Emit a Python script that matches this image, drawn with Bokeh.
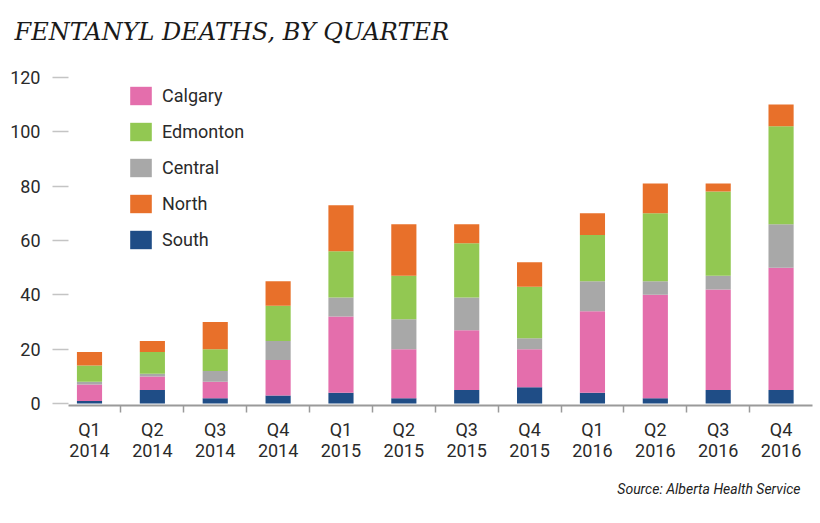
from bokeh.plotting import figure
from bokeh.models import ColumnDataSource, Range1d, FixedTicker, Legend, LegendItem, Title
from bokeh.embed import file_html
from bokeh.resources import INLINE

# ---- data ----
quarters = ["Q1", "Q2", "Q3", "Q4", "Q1", "Q2", "Q3", "Q4", "Q1", "Q2", "Q3", "Q4"]
years = ["2014"] * 4 + ["2015"] * 4 + ["2016"] * 4
south = [1, 5, 2, 3, 4, 2, 5, 6, 4, 2, 5, 5]
calgary = [6, 5, 6, 13, 28, 18, 22, 14, 30, 38, 37, 45]
central = [1, 1, 4, 7, 7, 11, 12, 4, 11, 5, 5, 16]
edmonton = [6, 8, 8, 13, 17, 16, 20, 19, 17, 25, 31, 36]
north = [5, 4, 10, 9, 17, 19, 7, 9, 8, 11, 3, 8]
y_ticks = [0, 20, 40, 60, 80, 100, 120]

stack_order = ["South", "Calgary", "Central", "Edmonton", "North"]
legend_order = ["Calgary", "Edmonton", "Central", "North", "South"]
colors = {
    "South": "#1F4D86",
    "Calgary": "#E46EAC",
    "Central": "#A8A8A8",
    "Edmonton": "#92C852",
    "North": "#E8702A",
}

xpos = list(range(len(quarters)))
source = ColumnDataSource(dict(
    x=xpos, South=south, Calgary=calgary, Central=central,
    Edmonton=edmonton, North=north,
))

LABEL_FONT = "Roboto"

p = figure(
    width=820, height=523,
    x_range=Range1d(-0.334, 11.5), y_range=Range1d(-0.7, 126.2),
    output_backend="svg", toolbar_location=None,
    min_border_left=68, min_border_right=8, min_border_top=60, min_border_bottom=118,
    background_fill_color="white", border_fill_color="white",
)
p.outline_line_color = None
p.grid.visible = False

renderers = p.vbar_stack(stack_order, x="x", width=0.4, source=source,
                         color=[colors[s] for s in stack_order], line_width=0)
rmap = dict(zip(stack_order, renderers))

# title
p.title.text = "FENTANYL DEATHS, BY QUARTER"
p.title.text_font = "DejaVu Serif"
p.title.text_font_style = "italic"
p.title.text_font_size = "24px"
p.title.text_color = "#1a1a1a"
p.title.align = "left"
p.title.offset = -54
p.title.standoff = 29

# source note
src = Title(text="Source: Alberta Health Service", align="right",
            text_font=LABEL_FONT, text_font_style="italic",
            text_font_size="14px", text_color="#222222", standoff=30, offset=12,
            text_line_height=1.8)
p.add_layout(src, "below")

# x axis
xa = p.xaxis[0]
xa.ticker = FixedTicker(ticks=xpos, minor_ticks=[i + 0.5 for i in xpos[:-1]])
xa.major_label_overrides = {i: f"{q}\n{y}" for i, (q, y) in enumerate(zip(quarters, years))}
xa.major_tick_line_color = None
xa.major_tick_out = 0
xa.major_tick_in = 0
xa.minor_tick_out = 7
xa.minor_tick_in = 0
xa.minor_tick_line_color = "#9a9a9a"
xa.minor_tick_line_width = 1.5
xa.axis_line_color = "#9a9a9a"
xa.axis_line_width = 2
xa.major_label_text_font = LABEL_FONT
xa.major_label_text_font_size = "18px"
xa.major_label_text_line_height = 1.0
xa.major_label_text_color = "#2a2a2a"
xa.major_label_standoff = 6

# y axis
ya = p.yaxis[0]
ya.ticker = FixedTicker(ticks=y_ticks)
ya.minor_tick_line_color = None
ya.axis_line_color = None
ya.major_tick_out = 16
ya.major_tick_in = 0
ya.major_tick_line_color = "#c4c4c4"
ya.major_tick_line_width = 1.5
ya.major_label_standoff = 12
ya.major_label_text_font = LABEL_FONT
ya.major_label_text_font_size = "18px"
ya.major_label_text_color = "#2a2a2a"

legend = Legend(
    items=[LegendItem(label=name, renderers=[rmap[name]]) for name in legend_order],
    location=(59, 154), orientation="vertical",
    glyph_width=27, glyph_height=23, label_height=23, spacing=13,
    padding=0, margin=0, label_standoff=8,
    border_line_color=None, background_fill_alpha=0,
    label_text_font=LABEL_FONT, label_text_font_size="18px", label_text_color="#2a2a2a",
)
p.add_layout(legend)

open("out.html", "w").write(file_html(p, INLINE))
